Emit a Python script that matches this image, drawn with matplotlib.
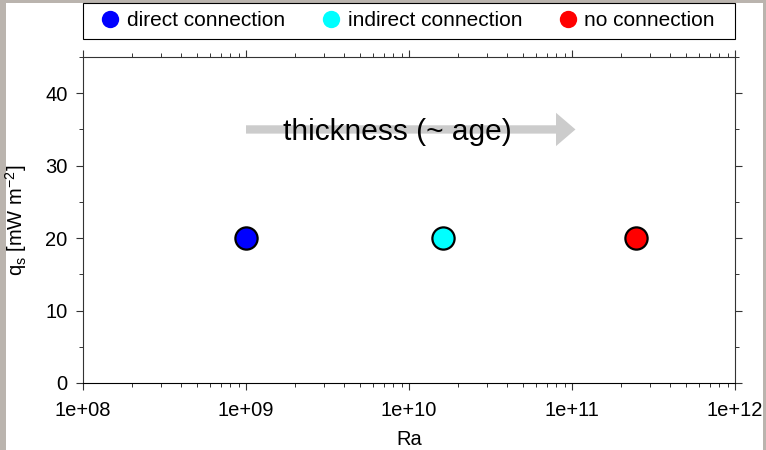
import math
import matplotlib.pyplot as plt
from matplotlib.lines import Line2D
from matplotlib.patches import Rectangle
from matplotlib.ticker import LogLocator, MultipleLocator, FuncFormatter

plt.rcParams['font.family'] = ['Liberation Sans', 'DejaVu Sans']

# Rayleigh number and surface heat flow for the three cases
labels = ['direct connection', 'indirect connection', 'no connection']
colors = ['#0000ff', '#00ffff', '#ff0000']
ra = [1.0e9, 1.62e10, 2.47e11]
qs = [20, 20, 20]

# arrow marking increasing thickness
arrow_ra = [1.0e9, 1.05e11]
arrow_q = 35
arrow_text = 'thickness (~ age)'
arrow_text_ra = 8.5e9

W, H = 766, 450
fig = plt.figure(figsize=(W / 100, H / 100), dpi=100, facecolor='#bab4ae')
fig.patches.append(Rectangle((6 / W, 0), 757 / W, 447 / H,
                             transform=fig.transFigure, facecolor='white',
                             edgecolor='none', zorder=-10))

ax = fig.add_axes([83 / W, 1 - 383 / H, 652 / W, 326 / H])
ax.set_xscale('log')
ax.set_xlim(1e8, 1e12)
ax.set_ylim(0, 45)

for x, y, c in zip(ra, qs, colors):
    ax.plot([x], [y], 'o', ms=16, mfc=c, mec='black', mew=1.6, zorder=5)

ax.annotate('', xy=(arrow_ra[1], arrow_q), xytext=(arrow_ra[0], arrow_q),
            arrowprops=dict(arrowstyle='simple,head_length=14,head_width=24,tail_width=6',
                            mutation_scale=1, color='#cccccc', lw=0,
                            shrinkA=0, shrinkB=0), zorder=2)
ax.text(arrow_text_ra, arrow_q - 0.3, arrow_text, fontsize=21.5, ha='center',
        va='center', zorder=3)

ax.xaxis.set_major_locator(LogLocator(base=10, numticks=10))
ax.xaxis.set_minor_locator(LogLocator(base=10, subs=range(2, 10), numticks=20))
ax.xaxis.set_major_formatter(FuncFormatter(lambda v, p: '1e+%02d' % round(math.log10(v))))
ax.yaxis.set_major_locator(MultipleLocator(10))
ax.yaxis.set_minor_locator(MultipleLocator(5))

ax.tick_params(which='both', direction='out', top=True, right=True,
               labelsize=14.5, color='#333333')
ax.tick_params(which='major', length=5, width=0.8, pad=6)
ax.tick_params(axis='x', which='major', pad=8)
ax.tick_params(which='minor', length=3, width=0.7)
for side in ax.spines:
    ax.spines[side].set_linewidth(0.8)
    ax.spines[side].set_color('#333333')
ax.spines['bottom'].set_color('black')

ax.set_xlabel('Ra', fontsize=14.5, labelpad=7)
ax.set_ylabel('q$_\\mathregular{s}$ [mW m$^\\mathregular{-2}$]', fontsize=14.5, labelpad=12)

# legend box above the axes, entries spread across it
fig.patches.append(Rectangle((83 / W, 1 - 39 / H), 652 / W, 36 / H,
                             transform=fig.transFigure, facecolor='white',
                             edgecolor='black', lw=0.8))
handles = [Line2D([], [], marker='o', ls='none', ms=12.5, mfc=c, mec='none')
           for c in colors]
fig.legend(handles, labels, loc='center', ncol=3, mode='expand',
           bbox_to_anchor=(101 / W, 1 - 39 / H, 614 / W, 36 / H),
           fontsize=15, frameon=False, borderaxespad=0, borderpad=0,
           handlelength=0.9, handletextpad=0.35)

fig.savefig('out.png', dpi=100, facecolor=fig.get_facecolor())
